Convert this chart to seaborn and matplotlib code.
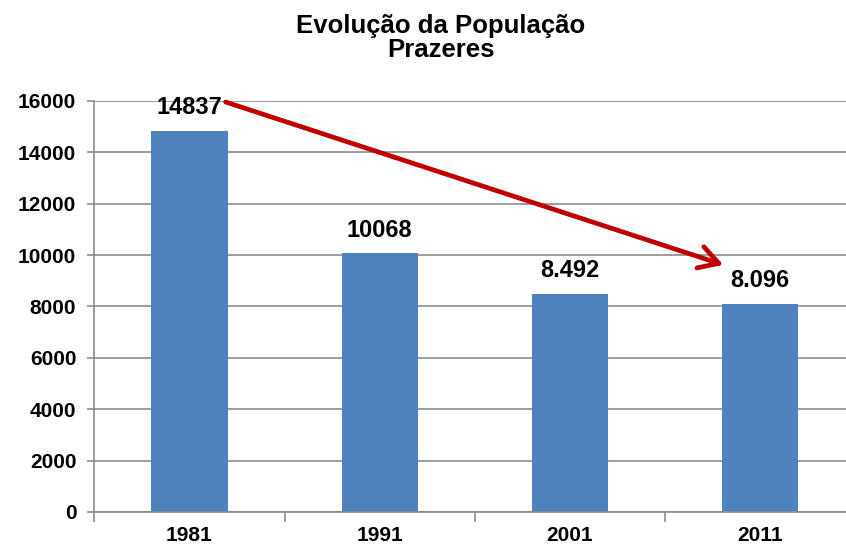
import matplotlib
matplotlib.use("Agg")
import matplotlib.pyplot as plt
from matplotlib.ticker import FixedLocator
import seaborn as sns
import pandas as pd

# dados
anos = ["1981", "1991", "2001", "2011"]
populacao = [14837, 10068, 8492, 8096]
rotulos = ["14837", "10068", "8.492", "8.096"]

df = pd.DataFrame({"ano": anos, "populacao": populacao})

plt.rcParams["font.family"] = ["Liberation Sans", "DejaVu Sans"]
cinza = "#8c8c8c"

fig = plt.figure(figsize=(8.46, 5.47), dpi=100)
# eixo estende-se um pouco para lá da margem direita (como no original)
ax = fig.add_axes([0.1116, 0.064, 0.899, 0.7514])

sns.barplot(data=df, x="ano", y="populacao", color="#4F81BD",
            width=0.4, saturation=1, ax=ax)

ax.set_xlim(-0.5, 3.5)
ax.set_ylim(0, 16000)
ax.set_yticks(range(0, 16001, 2000))
ax.set_xlabel("")
ax.set_ylabel("")

ax.yaxis.grid(True, color=cinza, lw=1.2)
ax.set_axisbelow(True)
for s in ["top", "right"]:
    ax.spines[s].set_visible(False)
for s in ["left", "bottom"]:
    ax.spines[s].set_color(cinza)
    ax.spines[s].set_linewidth(1.2)

ax.tick_params(axis="y", length=5, color=cinza, width=1.2, pad=8)
ax.tick_params(axis="x", which="major", length=0, pad=10)
ax.xaxis.set_minor_locator(FixedLocator([-0.5, 0.5, 1.5, 2.5, 3.5]))
ax.tick_params(axis="x", which="minor", length=7, color=cinza, width=1.2)

for lab in ax.get_yticklabels() + ax.get_xticklabels():
    lab.set_fontweight("bold")
    lab.set_fontsize(15)

# valores por cima das barras
for i, (v, r) in enumerate(zip(populacao, rotulos)):
    ax.annotate(r, (i, v), xytext=(0, 12), textcoords="offset points",
                ha="center", va="baseline", fontsize=17, fontweight="bold")

# seta de tendência
ax.annotate("", xy=(2.808, 9620), xytext=(0.19, 15960),
            arrowprops=dict(arrowstyle="->,head_length=0.7,head_width=0.4",
                            color="#C00000", lw=3.4, mutation_scale=20,
                            shrinkA=0, shrinkB=0))

fig.text(441 / 846, 1 - 38 / 547, "Evolução da População\nPrazeres",
         ha="center", va="center", fontsize=18.5, fontweight="bold",
         linespacing=1.05)

fig.savefig("out.png", dpi=100)
